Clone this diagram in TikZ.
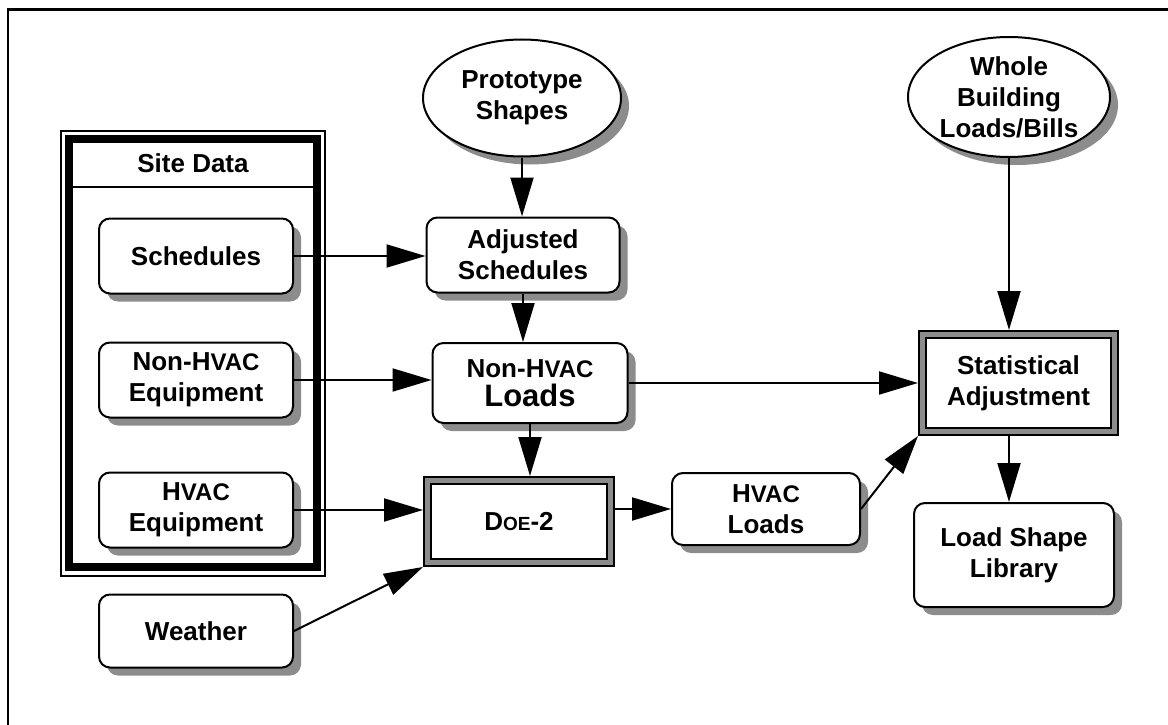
\documentclass[tikz,border=0pt]{standalone}
\usepackage{fontspec}
\setmainfont{Liberation Sans}
\usetikzlibrary{positioning,arrows.meta,shapes.geometric}
\newcommand{\smc}[1]{{\fontsize{24}{31}\selectfont #1}}
\newcommand{\tinysc}[1]{{\fontsize{19}{31}\selectfont #1}}

\begin{document}
\begin{tikzpicture}[
    x=1pt,y=-1pt,
    txt/.style={font=\fontsize{26}{31}\selectfont\bfseries,align=center},
    shad/.style={preaction={fill=black!45,transform canvas={xshift=8pt,yshift=-8pt}}},
    box/.style={txt,draw,line width=2pt,fill=white,rounded corners=11pt,inner sep=2pt,shad},
    oval/.style={txt,draw,line width=2pt,fill=white,ellipse,inner sep=0pt,shad},
    dbox/.style={txt,draw,line width=2pt,double=black!45,double distance=5pt,fill=white,inner sep=2pt,outer sep=4.5pt},
    arr/.style={-{Triangle[length=39pt,width=23pt]},line width=2pt},
  ]
    \useasboundingbox (0,0) rectangle (1168,725);
    \draw[line width=2.5pt] (8,725) -- (8,9.3) -- (1168,9.3);

    % site data frame
    \draw[line width=1.5pt] (61,131) rectangle (325,576);
    \draw[line width=8pt] (69,139) rectangle (317,567);
    \draw[line width=1.5pt] (73,187) -- (313,187);
    \node[txt] (site) at (193,163) {Site Data};

    \node[box,minimum width=194pt,minimum height=75pt] (sched) at (196,256) {Schedules};
    \node[box,minimum width=194pt,minimum height=75pt] (nheq)  at (196,380) {Non-H\smc{VAC}\\Equipment};
    \node[box,minimum width=194pt,minimum height=75pt] (heq)   at (196,510) {H\smc{VAC}\\Equipment};
    \node[box,minimum width=194pt,minimum height=73pt] (wthr)  at (196,631) {Weather};

    \node[oval,minimum width=198pt,minimum height=117pt] (proto) at (522,98) {Prototype\\Shapes};
    \node[box,minimum width=193pt,minimum height=75pt] (adjs) at (523,255) {Adjusted\\Schedules};
    \node[box,minimum width=195pt,minimum height=80pt] (nhl)  at (530,383) {Non-H\smc{VAC}\\[-2pt]{\fontsize{31}{34}\selectfont Loads}};
    \node[dbox,minimum width=183pt,minimum height=82pt] (doe) at (519,521.5) {D\tinysc{OE}-2};
    \node[box,minimum width=188pt,minimum height=72pt] (hvl) at (766,509) {H\smc{VAC}\\Loads};

    \node[oval,minimum width=202pt,minimum height=120pt] (whole) at (1009,97) {Whole\\Building\\Loads/Bills};
    \node[dbox,minimum width=192pt,minimum height=97pt] (stat) at (1018.5,383) {Statistical\\Adjustment};
    \node[box,minimum width=200pt,minimum height=104pt] (lsl) at (1014,555) {Load Shape\\Library};

    \draw[arr] (proto.south) -- (proto.south |- adjs.north);
    \draw[arr] (sched.east) -- (sched.east -| adjs.west);
    \draw[arr] (adjs.south) -- (adjs.south |- nhl.north);
    \draw[arr] (nheq.east) -- (nheq.east -| nhl.west);
    \draw[arr] (nhl.south) -- (nhl.south |- doe.north);
    \draw[arr] (heq.east) -- (heq.east -| doe.west);
    \draw[arr] (wthr.east) -- (doe.south west);
    \draw[arr] (doe.east |- hvl.west) -- (hvl.west);
    \draw[arr] (nhl.east) -- (nhl.east -| stat.west);
    \draw[arr] (hvl.east) -- (stat.south west);
    \draw[arr] (whole.south) -- (whole.south |- stat.north);
    \draw[arr] (stat.south -| whole.south) -- (lsl.north -| whole.south);
  \end{tikzpicture}
\end{document}
